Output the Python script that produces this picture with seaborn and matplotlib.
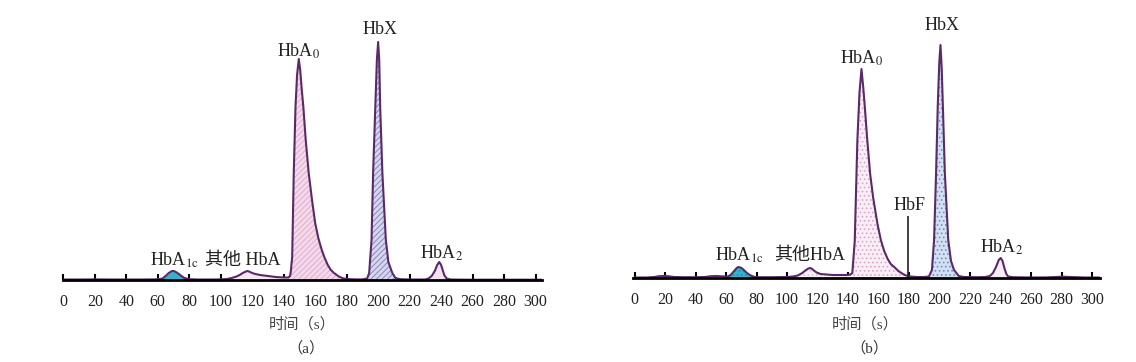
import matplotlib
matplotlib.use("Agg")
import matplotlib.pyplot as plt
import seaborn as sns

# ---------------- data ----------------
# Panel (a): retention time (s) and detector signal (arbitrary units)
time_a = [0, 10, 20, 30, 40, 50, 58, 61, 63, 65, 67, 69, 70, 71, 73, 75, 77, 80, 85, 90,
          95, 100, 104, 107, 110, 112, 114, 116, 117, 118, 120, 122, 125, 130, 135, 140,
          143, 144, 144.5, 145.4, 146.4, 147.5, 148.5, 149.6, 150.5, 151.5, 152.5, 154,
          155.9, 158, 160, 162, 164, 165.8, 168, 170, 172, 175, 178, 182, 186, 190, 193,
          194.3, 195.8, 196.8, 198.2, 199.2, 200, 200.7, 201.3, 202.7, 204.9, 206.5, 209,
          211, 214, 220, 226, 230, 232, 234, 236, 237.5, 238.8, 240, 241, 242, 243.5, 246,
          250, 260, 270, 280, 290, 300, 304]
signal_a = [0.5, 0.5, 0.6, 0.5, 0.5, 0.5, 0.6, 0.8, 1.5, 4, 7, 9, 9, 8.5, 6.5, 4, 2, 0.8, 0.5,
            0.5, 0.5, 0.6, 1, 2, 3.5, 5, 7, 8.5, 9, 8.5, 7, 6, 5, 4, 3, 2.5, 2.5, 4, 8, 23,
            107, 173, 205, 221, 210, 190, 173, 140, 107, 80, 57, 42, 31, 23, 15, 10, 7, 3.5,
            1.5, 0.8, 0.6, 0.6, 1.5, 7, 40, 107, 173, 220, 238, 220, 173, 107, 40, 18, 7, 2,
            0.8, 0.5, 0.5, 0.5, 1.5, 4, 9, 15, 18, 15, 10, 5, 1.5, 0.5, 0.4, 0.3, 0.3, 0.3,
            0.3, 0.3, 0.3]

# Panel (b)
time_b = [0, 8, 13, 16, 19, 22, 26, 32, 40, 46, 50, 54, 58, 61, 63, 65, 67, 68.1, 69.5, 71,
          73, 75, 77, 79, 82, 90, 100, 104, 107, 110, 112, 114, 115.2, 116.5, 118, 120, 122,
          126, 130, 135, 140, 141.5, 142.8, 144.4, 146.1, 147.5, 148.8, 150, 151, 152.5,
          154.5, 156.5, 159.3, 161.5, 163.7, 166, 168, 170.3, 173, 176, 178, 181, 185, 190,
          193, 195, 196.4, 197.7, 198.8, 199.8, 200.6, 201.4, 202.2, 203.5, 205.7, 207.5,
          209.5, 212.6, 216, 225, 230, 233, 235, 237, 238.8, 240.1, 241.3, 242.5, 243.8,
          245, 248, 260, 270, 276, 281, 286, 295, 305]
signal_b = [0.5, 0.5, 1, 1.8, 2, 1.8, 1, 0.8, 0.8, 1, 1.8, 2, 1.6, 1.5, 3, 6.5, 10, 11, 10.5,
            9, 6, 3.5, 2, 1, 0.8, 0.8, 1, 1.5, 2.5, 5, 7.5, 9.5, 10, 9, 7, 5, 4, 3.5, 3, 3,
            3, 3.5, 5, 37, 137, 185, 209, 190, 171, 140, 104, 80, 54, 38, 27, 19, 14, 11, 7,
            4, 2.5, 1.5, 1, 1, 1.5, 8, 38, 104, 171, 215, 233, 210, 171, 104, 38, 17, 8, 2,
            1, 0.8, 1, 2, 5, 11, 18, 20, 17, 10, 4, 1.5, 0.8, 0.5, 0.6, 1, 1.3, 1, 0.5, 0.5]

# HbF marker in panel (b)
hbf_time = 179
hbf_height = 62

# peak integration windows (s)
peaks_a = {"HbA1c": (61, 80), "other": (100, 143), "HbA0": (143, 186),
           "HbX": (193, 214), "HbA2": (230, 246)}
peaks_b = {"HbA1c": (61, 82), "other": (100, 141.5), "HbA0": (141.5, 181),
           "HbX": (193, 216), "HbA2": (233, 248)}

# peak labels
labels_a = ["HbA$_{\\mathrm{1c}}$", "其他 HbA", "HbA$_0$", "HbX", "HbA$_2$"]
label_t_a = [70.3, 114, 149.4, 200.9, 240.2]
label_y_a = [20, 20, 229, 250.5, 27]
labels_b = ["HbA$_{\\mathrm{1c}}$", "其他HbA", "HbA$_0$", "HbF", "HbX", "HbA$_2$"]
label_t_b = [69, 115, 148.9, 180.3, 201.5, 240.4]
label_y_b = [22.5, 23, 220, 72, 252.5, 31]

tick_values = list(range(0, 301, 20))
xlabel = "时间（s）"
panel_tags = ["（a）", "（b）"]

# ---------------- styling ----------------
sns.set_theme(style="white")
plt.rcParams["font.family"] = ["Liberation Serif", "Noto Sans CJK SC", "DejaVu Sans"]
plt.rcParams["mathtext.fontset"] = "stix"
plt.rcParams["hatch.linewidth"] = 0.7

LINE = "#5a2a68"
styles_a = {
    "HbA1c": dict(fc="#33b4cb", hatch=None, hc="#33b4cb"),
    "other": dict(fc="#f6e6f1", hatch=None, hc="#f6e6f1"),
    "HbA0": dict(fc="#f5d9ea", hatch="//////", hc="#dcaed0"),
    "HbX": dict(fc="#d6d6ef", hatch="//////", hc="#8c86bd"),
    "HbA2": dict(fc="#f3e3ef", hatch=None, hc="#f3e3ef"),
}
styles_b = {
    "HbA1c": dict(fc="#33b4cb", hatch="....", hc="#2a8aa8"),
    "other": dict(fc="#f8eef5", hatch="....", hc="#e0c0d8"),
    "HbA0": dict(fc="#faeef6", hatch="....", hc="#d8a6cc"),
    "HbX": dict(fc="#d3e0f2", hatch="....", hc="#6f8fc4"),
    "HbA2": dict(fc="#f6ecf4", hatch=None, hc="#f6ecf4"),
}

# centred full-width brackets, serif latin letters
CJK = ["Liberation Serif", "Noto Sans CJK TC", "DejaVu Sans"]

W, H = 1136, 362
fig = plt.figure(figsize=(W / 100, H / 100), dpi=100)
ax_a = fig.add_axes([62.5 / W, (H - 280) / H, 479.2 / W, 280 / H])
ax_b = fig.add_axes([633.3 / W, (H - 278) / H, 466.7 / W, 278 / H])


def draw(ax, t, s, peaks, styles, labels, lt, ly, xlim, ytop, tag, xl_pos, tag_pos):
    for name, (t0, t1) in peaks.items():
        st = styles[name]
        mask = [(v >= t0) and (v <= t1) for v in t]
        ax.fill_between(t, 0, s, where=mask, facecolor=st["fc"], edgecolor=st["hc"],
                        hatch=st["hatch"], linewidth=0, zorder=1)
    sns.lineplot(x=t, y=s, ax=ax, color=LINE, linewidth=1.5, estimator=None,
                 sort=False, zorder=3)
    for lab, x, y in zip(labels, lt, ly):
        ax.text(x, y, lab, ha="center", va="center", fontsize=13, color="#222222",
                zorder=5)
    ax.set_xlim(*xlim)
    ax.set_ylim(0, ytop)
    ax.set_yticks([])
    ax.set_xticks(tick_values)
    ax.set_xticklabels([str(v) for v in tick_values])
    for sp in ["top", "left", "right"]:
        ax.spines[sp].set_visible(False)
    ax.spines["bottom"].set_linewidth(2)
    ax.spines["bottom"].set_color("black")
    ax.spines["bottom"].set_zorder(4)
    ax.tick_params(axis="x", direction="in", length=4.5, width=1.5, color="black",
                   pad=10, labelsize=11.5, labelcolor="#222222", bottom=True)
    ax.set_xlabel("")
    ax.set_ylabel("")
    ax.text(xl_pos[0], xl_pos[1], xlabel, transform=ax.transAxes, ha="center",
            va="center", fontsize=11, color="#444444", family=CJK)
    ax.text(tag_pos[0], tag_pos[1], tag, transform=ax.transAxes, ha="center",
            va="center", fontsize=11, color="#333333", family=CJK)
    ax.set_facecolor("white")


draw(ax_a, time_a, signal_a, peaks_a, styles_a, labels_a, label_t_a, label_y_a,
     (-0.5, 303.9), 280, panel_tags[0], (0.501, -0.157), (0.508, -0.243))
draw(ax_b, time_b, signal_b, peaks_b, styles_b, labels_b, label_t_b, label_y_b,
     (-0.8, 305.2), 278, panel_tags[1], (0.496, -0.167), (0.506, -0.252))
ax_b.vlines([hbf_time], 0, [hbf_height], color="#222222", linewidth=1.2, zorder=4)

fig.savefig("out.png", dpi=100, facecolor="white")
